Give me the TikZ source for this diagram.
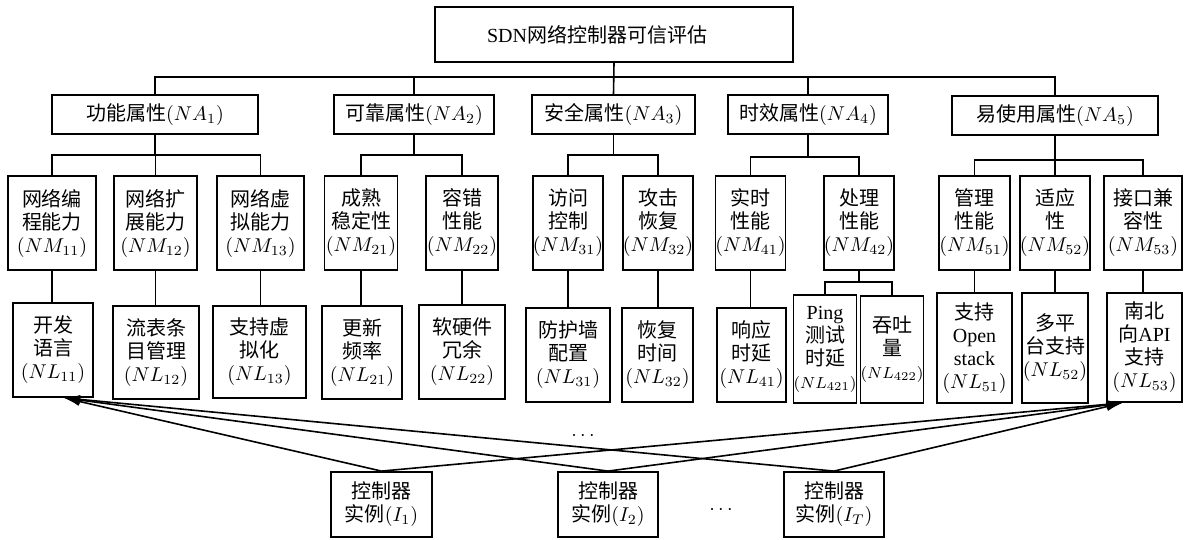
\documentclass[tikz,border=0pt]{standalone}
\usepackage{fontspec}
\setmainfont{Noto Sans CJK SC}
\newfontfamily\tm{Liberation Serif}
\usetikzlibrary{arrows.meta}
\newcommand{\smlab}[1]{{\fontsize{8}{10}\selectfont #1}}
\begin{document}
\begin{tikzpicture}[x=0.5pt,y=-0.5pt,
  box/.style={draw, line width=0.9pt, inner sep=0pt, align=center, font=\fontsize{10}{11.5}\selectfont},
  wh/.style 2 args={minimum width=#1*0.5pt, minimum height=#2*0.5pt},
  link/.style={line width=0.8pt},
  arr/.style={line width=0.8pt, -{Latex[length=8pt,width=4.5pt]}},
  dots/.style={inner sep=0pt, font=\fontsize{10}{12}\selectfont}]
\useasboundingbox (0,0) rectangle (1184,540);
% root
\node[box, wh={358}{55}] (top) at (614,34.5) {{\tm SDN}网络控制器可信评估\hspace*{17pt}};
% level 1
\node[box, wh={206}{39}] (NA1) at (155,114.5) {功能属性$(NA_1)$};
\node[box, wh={160}{39}] (NA2) at (414,114.5) {可靠属性$(NA_2)$};
\node[box, wh={163}{39}] (NA3) at (613.5,114.5) {安全属性$(NA_3)$};
\node[box, wh={160}{39}] (NA4) at (808,114.5) {时效属性$(NA_4)$};
\node[box, wh={206}{39}] (NA5) at (1055,115.5) {易使用属性$(NA_5)$};
% level 2
\node[box, wh={88}{94}] (NM11) at (52,223) {网络编\\程能力\\$(NM_{11})$};
\node[box, wh={83}{94}] (NM12) at (155.5,223) {网络扩\\展能力\\$(NM_{12})$};
\node[box, wh={87}{94}] (NM13) at (260.5,223) {网络虚\\拟能力\\$(NM_{13})$};
\node[box, wh={73}{94}] (NM21) at (361,223) {成熟\\稳定性\\$(NM_{21})$};
\node[box, wh={72}{94}] (NM22) at (462,223) {容错\\性能\\$(NM_{22})$};
\node[box, wh={66}{94}] (NM31) at (568,223) {访问\\控制\\$(NM_{31})$};
\node[box, wh={68}{94}] (NM32) at (658,223) {攻击\\恢复\\$(NM_{32})$};
\node[box, wh={67}{94}] (NM41) at (750.5,223) {实时\\性能\\$(NM_{41})$};
\node[box, wh={68}{94}] (NM42) at (859,223) {处理\\性能\\$(NM_{42})$};
\node[box, wh={71}{94}] (NM51) at (974.5,223) {管理\\性能\\$(NM_{51})$};
\node[box, wh={66}{94}] (NM52) at (1055,223) {适应\\性\\$(NM_{52})$};
\node[box, wh={78}{94}] (NM53) at (1143,223) {接口兼\\容性\\$(NM_{53})$};
% level 3
\node[box, wh={80}{94}] (NL11) at (53,350) {开发\\语言\\$(NL_{11})$};
\node[box, wh={86}{93}] (NL12) at (156,352.5) {流表条\\目管理\\$(NL_{12})$};
\node[box, wh={93}{92}] (NL13) at (259.5,352) {支持虚\\拟化\\$(NL_{13})$};
\node[box, wh={80}{93}] (NL21) at (362,352.5) {更新\\频率\\$(NL_{21})$};
\node[box, wh={86}{94}] (NL22) at (462,352) {软硬件\\冗余\\$(NL_{22})$};
\node[box, wh={84}{94}] (NL31) at (568,355) {防护墙\\配置\\$(NL_{31})$};
\node[box, wh={71}{94}] (NL32) at (657.5,355) {恢复\\时间\\$(NL_{32})$};
\node[box, wh={69}{94}] (NL41) at (751.5,355) {响应\\时延\\$(NL_{41})$};
\node[box, wh={60}{108}] (NL421) at (825,349) {{\tm Ping}\\测试\\时延\\\smlab{$(NL_{421})$}};
\node[box, wh={58}{107}] (NL422) at (892,349.5) {吞吐\\量\\\smlab{$(NL_{422})$}};
\node[box, wh={75}{110}] (NL51) at (974.5,348) {支持\\{\tm Open}\\{\tm stack}\\$(NL_{51})$};
\node[box, wh={66}{110}] (NL52) at (1055,348) {多平\\台支持\\$(NL_{52})$};
\node[box, wh={75}{109}] (NL53) at (1144.5,347.5) {南北\\向{\tm API}\\支持\\$(NL_{53})$};
% controllers
\node[box, wh={101}{65}] (I1) at (381.5,504.5) {控制器\\实例$(I_1)$};
\node[box, wh={100}{65}] (I2) at (608,504.5) {控制器\\实例$(I_2)$};
\node[box, wh={100}{65}] (IT) at (834,504.5) {控制器\\实例$(I_T)$};
\node[dots] (d1) at (583,436) {$\cdots$};
\node[dots] (d2) at (721,510) {$\cdots$};
% bus levels
\coordinate (busY) at (0,77);
\coordinate (b1) at (0,155);
\coordinate (b4) at (0,157);
\coordinate (b5) at (0,160);
\coordinate (b42) at (0,282);
% root to level 1
\draw[link] (top.south) -- (NA3.north);
\draw[link] (NA1.north) -- (NA1.north |- busY) -- (NA5.north |- busY) -- (NA5.north);
\draw[link] (NA2.north) -- (NA2.north |- busY);
\draw[link] (NA4.north) -- (NA4.north |- busY);
% level 1 to level 2
\draw[link] (NA1.south) -- (NA1.south |- b1);
\draw[link] (NM11.north) -- (NM11.north |- b1) -- (NM13.north |- b1) -- (NM13.north);
\draw[link] (NM12.north) -- (NM12.north |- b1);
\draw[link] (NA2.south) -- (NA2.south |- b1);
\draw[link] (NM21.north) -- (NM21.north |- b1) -- (NM22.north |- b1) -- (NM22.north);
\draw[link] (NA3.south) -- (NA3.south |- b1);
\draw[link] (NM31.north) -- (NM31.north |- b1) -- (NM32.north |- b1) -- (NM32.north);
\draw[link] (NA4.south) -- (NA4.south |- b4);
\draw[link] (NM41.north) -- (NM41.north |- b4) -- (NM42.north |- b4) -- (NM42.north);
\draw[link] (NA5.south) -- (NA5.south |- b5);
\draw[link] (NM51.north) -- (NM51.north |- b5) -- (NM53.north |- b5) -- (NM53.north);
\draw[link] (NM52.north) -- (NM52.north |- b5);
% level 2 to level 3
\foreach \a/\b in {NM11/NL11,NM12/NL12,NM13/NL13,NM21/NL21,NM22/NL22,NM31/NL31,NM32/NL32,NM41/NL41,NM51/NL51,NM52/NL52,NM53/NL53}
  \draw[link] (\a.south) -- (\a.south |- \b.north);
\draw[link] (NM42.south) -- (NM42.south |- b42);
\draw[link] (NL421.north) -- (NL421.north |- b42) -- (NL422.north |- b42) -- (NL422.north);
% controller arrows
\coordinate (tipL) at ([xshift=5.5pt]NL11.south);
\coordinate (tipR) at ([xshift=-11pt]NL53.south);
\foreach \c in {I1,I2,IT} {
  \draw[arr] (\c.north) -- (tipL);
  \draw[arr] (\c.north) -- (tipR);
}
\end{tikzpicture}
\end{document}
